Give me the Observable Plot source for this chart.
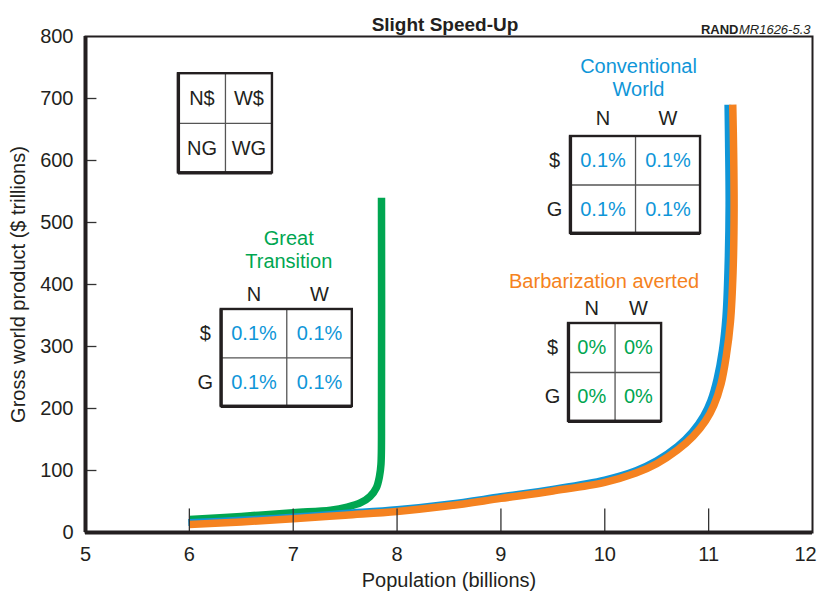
<!DOCTYPE html>
<html>
<head>
<meta charset="utf-8">
<script src="https://cdn.jsdelivr.net/npm/d3@7"></script>
<script src="https://cdn.jsdelivr.net/npm/@observablehq/plot@0.6"></script>
<style>
  html, body { margin: 0; padding: 0; background: white; overflow: hidden; }
</style>
</head>
<body>
<div id="chart"></div>
<script>
// ---------- data ----------
const xTickValues = [5, 6, 7, 8, 9, 10, 11];
const xLastTick = [12];
const yTickValues = [0, 100, 200, 300, 400, 500, 600, 700, 800];
const xInnerTicks = [6, 7, 8, 9, 10, 11];
const yInnerTicks = [100, 200, 300, 400, 500, 600, 700];

// Great Transition (green)
const popGreat = [6.0, 6.5, 7.0, 7.36, 7.52, 7.65, 7.74, 7.8, 7.83, 7.845, 7.85, 7.85];
const gwpGreat = [21, 26, 32, 36, 41, 48, 58, 72, 90, 110, 200, 540];

// Conventional World (blue)
const popConv = [5.99, 6.5, 7.0, 7.5, 8.0, 8.5, 9.0, 9.5, 10.0, 10.3, 10.5, 10.7, 10.84, 10.95, 11.02, 11.08, 11.13, 11.165, 11.185, 11.195, 11.19, 11.185];
const gwpConv = [16, 20, 25, 31, 37, 46, 58, 70, 85, 100, 116, 139, 162, 188, 213, 248, 293, 348, 428, 528, 628, 690];

// Barbarization averted (orange)
const popBarb = [6.0, 6.5, 7.0, 7.5, 8.0, 8.5, 9.0, 9.5, 10.0, 10.3, 10.5, 10.7, 10.85, 10.97, 11.05, 11.12, 11.17, 11.21, 11.235, 11.245, 11.24, 11.232];
const gwpBarb = [13, 17, 22, 28, 34, 43, 55, 67, 81, 96, 111, 133, 155, 180, 205, 240, 285, 340, 420, 520, 620, 690];

// Tables
const keyCells = [["N$", "W$"], ["NG", "WG"]];
const colHeads = ["N", "W"];
const rowHeads = ["$", "G"];
const greatCells = [["0.1%", "0.1%"], ["0.1%", "0.1%"]];
const convCells = [["0.1%", "0.1%"], ["0.1%", "0.1%"]];
const barbCells = [["0%", "0%"], ["0%", "0%"]];

const titleText = "Slight Speed-Up";
const xLabel = "Population (billions)";
const yLabel = "Gross world product ($ trillions)";

// ---------- colours ----------
const GREEN = "#00a651";
const BLUE = "#0f96d8";
const ORANGE = "#f58220";
const INK = "#231f20";

const toRows = (xs, ys) => xs.map((x, i) => ({x, y: ys[i]}));

// table layout (box top-left in data units, cell size in data units)
const tables = [
  {cells: keyCells, color: INK, left: 5.895, top: 740, cw: 0.4525, ch: 80, heads: false},
  {cells: greatCells, color: BLUE, left: 6.307, top: 359.7, cw: 0.631, ch: 78.2, heads: true,
   title: "Great\nTransition", titleColor: GREEN, titleDy: -60, titleDx: 2, headDy: -15},
  {cells: convCells, color: BLUE, left: 9.670, top: 638.7, cw: 0.626, ch: 78.2, heads: true,
   title: "Conventional\nWorld", titleColor: BLUE, titleDy: -59, titleDx: 3, headDy: -18},
  {cells: barbCells, color: GREEN, left: 9.651, top: 337.1, cw: 0.448, ch: 79, heads: true,
   title: "Barbarization averted", titleColor: ORANGE, titleDy: -43, titleDx: -11, headDy: -15}
];

function tableMarks(t) {
  const n = t.cells.length, m = t.cells[0].length;
  const x1 = t.left, x2 = t.left + m * t.cw, y2 = t.top, y1 = t.top - n * t.ch;
  const cellData = [];
  t.cells.forEach((row, i) => row.forEach((v, j) => cellData.push({
    x: t.left + (j + 0.5) * t.cw, y: t.top - (i + 0.5) * t.ch, v})));
  const marks = [
    Plot.rect([0], {x1: () => x1, x2: () => x2, y1: () => y1, y2: () => y2, fill: "white"}),
    Plot.ruleX(d3.range(1, m), {x: j => t.left + j * t.cw, y1: y1, y2: y2, stroke: "#555", strokeWidth: 1.3}),
    Plot.ruleY(d3.range(1, n), {y: i => t.top - i * t.ch, x1: x1, x2: x2, stroke: "#555", strokeWidth: 1.3}),
    Plot.rect([0], {x1: () => x1, x2: () => x2, y1: () => y1, y2: () => y2, fill: "none", stroke: INK, strokeWidth: 2.4}),
    Plot.ruleX([0], {x: () => x1, y1: y1, y2: y2, stroke: INK, strokeWidth: 3.2}),
    Plot.ruleY([0], {y: () => y1, x1: x1, x2: x2, stroke: INK, strokeWidth: 3.2}),
    Plot.text(cellData, {x: "x", y: "y", text: "v", fill: t.color, fontSize: 20})
  ];
  if (t.heads) {
    marks.push(
      Plot.text(colHeads, {x: (d, j) => t.left + (j + 0.5) * t.cw, y: () => t.top, dy: t.headDy, fill: INK, fontSize: 20}),
      Plot.text(rowHeads, {x: () => t.left, y: (d, i) => t.top - (i + 0.5) * t.ch, dx: -16, fill: INK, fontSize: 20}),
      Plot.text([t.title], {x: () => (x1 + x2) / 2, y: () => t.top, dy: t.titleDy, dx: t.titleDx,
        fill: t.titleColor, fontSize: 20, lineHeight: 1.15})
    );
  }
  return marks;
}

const chart = Plot.plot({
  width: 818,
  height: 602,
  marginLeft: 85,
  marginRight: 6,
  marginTop: 36,
  marginBottom: 70,
  x: {domain: [5, 12]},
  y: {domain: [0, 800]},
  style: {fontFamily: "'Liberation Sans', Arial, Helvetica, sans-serif", fontSize: "20px", color: INK, background: "white"},
  marks: [
    // curves
    Plot.line(toRows(popGreat, gwpGreat), {x: "x", y: "y", stroke: GREEN, strokeWidth: 7.5, curve: "catmull-rom", strokeLinecap: "butt"}),
    Plot.line(toRows(popConv, gwpConv), {x: "x", y: "y", stroke: BLUE, strokeWidth: 7, curve: "catmull-rom", strokeLinecap: "butt"}),
    Plot.line(toRows(popBarb, gwpBarb), {x: "x", y: "y", stroke: ORANGE, strokeWidth: 7.5, curve: "catmull-rom", strokeLinecap: "butt"}),
    // inner ticks
    Plot.ruleX(xInnerTicks, {y1: 0, y2: 38, stroke: "#333", strokeWidth: 1.3}),
    Plot.ruleY(yInnerTicks, {x1: 5, x2: 5.11, stroke: "#333", strokeWidth: 1.3}),
    // frame
    Plot.frame({stroke: INK, strokeWidth: 2}),
    Plot.ruleX([5], {stroke: INK, strokeWidth: 4}),
    Plot.ruleY([0], {stroke: INK, strokeWidth: 4}),
    // axes
    Plot.axisX(xTickValues, {tickSize: 0, tickPadding: 14, label: null, fill: INK}),
    Plot.axisX(xLastTick, {tickSize: 0, tickPadding: 14, label: null, fill: INK, dx: -7}),
    Plot.axisY(yTickValues, {tickSize: 0, tickPadding: 12, label: null, fill: INK}),
    // axis labels
    Plot.text([xLabel], {frameAnchor: "bottom", dy: 54, fill: INK, fontSize: 20}),
    Plot.text([yLabel], {frameAnchor: "left", textAnchor: "middle", dx: -67, rotate: -90, fill: INK, fontSize: 20}),
    // title and source
    Plot.text([titleText], {frameAnchor: "top", dy: -19, dx: -4, fill: INK, fontSize: 19, fontWeight: "bold"}),
    Plot.text(["MR1626-5.3"], {frameAnchor: "top-right", dx: -2, dy: -12, textAnchor: "end", fill: INK, fontSize: 13, fontStyle: "italic"}),
    Plot.text(["RAND"], {frameAnchor: "top-right", dx: -74, dy: -12, textAnchor: "end", fill: INK, fontSize: 13, fontWeight: "bold"}),
    // tables
    ...tables.flatMap(tableMarks)
  ]
});

document.getElementById("chart").append(chart);
</script>
</body>
</html>
